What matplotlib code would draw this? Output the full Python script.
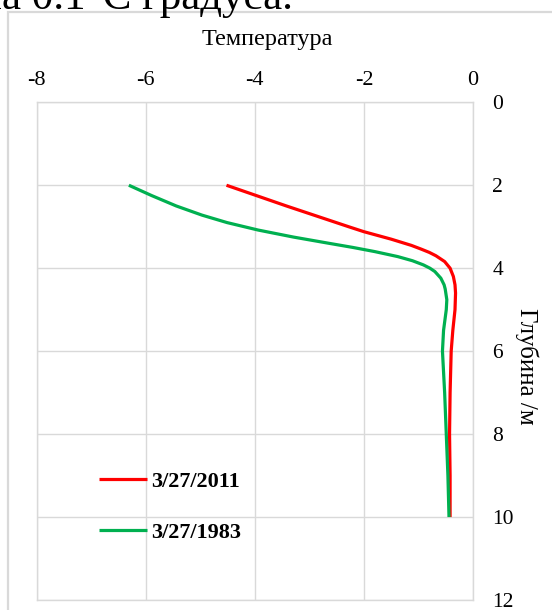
import matplotlib
matplotlib.use("Agg")
import matplotlib.pyplot as plt
from matplotlib.patches import Rectangle

# ---- data ----
series_labels = ["3/27/2011", "3/27/1983"]
series_colors = ["#ff0000", "#00b050"]

depth_2011 = [2.0, 2.5, 3.0, 3.12, 3.3, 3.45, 3.54, 3.62, 3.7, 3.84, 4.0, 4.2,
              4.4, 4.6, 5.0, 5.5, 6.0, 7.0, 8.0, 9.0, 10.0]
temp_2011 = [-4.52, -3.42, -2.28, -2.0, -1.5, -1.13, -0.95, -0.80, -0.68, -0.52,
             -0.42, -0.36, -0.33, -0.32, -0.33, -0.37, -0.40, -0.42, -0.43,
             -0.42, -0.42]

depth_1983 = [2.0, 2.25, 2.5, 2.72, 2.9, 3.08, 3.25, 3.4, 3.5, 3.6, 3.72, 3.82,
              3.92, 4.0, 4.08, 4.24, 4.4, 4.5, 4.76, 5.0, 5.5, 6.0, 6.5, 7.0,
              8.0, 9.0, 10.0]
temp_1983 = [-6.31, -5.89, -5.44, -4.97, -4.51, -3.94, -3.29, -2.64, -2.20, -1.80,
             -1.38, -1.11, -0.91, -0.79, -0.70, -0.59, -0.53, -0.51, -0.48, -0.49,
             -0.54, -0.56, -0.54, -0.52, -0.49, -0.46, -0.44]

x_ticks = [-8, -6, -4, -2, 0]
y_ticks = [0, 2, 4, 6, 8, 10, 12]

title_text = "Температура"
ylabel_text = "Глубина /м"
top_text = "на 0.1°С градуса."

# ---- figure ----
W, H = 552, 610
fig = plt.figure(figsize=(W / 100, H / 100), dpi=100)
plt.rcParams['font.family'] = ['Liberation Serif', 'DejaVu Serif']

def fx(px):
    return px / W

def fy(py):
    return 1 - py / H

# outer chart frame
fig.patches.append(Rectangle((fx(8), fy(640)), fx(600), fy(12) - fy(640),
                             transform=fig.transFigure, facecolor="none",
                             edgecolor="#d9d9d9", linewidth=1.6))

# clipped text above the chart
fig.text(fx(-21), fy(9), top_text, fontsize=31, va="baseline", ha="left",
         color="black")

left, right, top, bottom = 36.7, 473.0, 102.3, 600.0
ax = fig.add_axes([fx(left), fy(bottom), fx(right - left), fy(top) - fy(bottom)])

ax.plot(temp_2011, depth_2011, color=series_colors[0], lw=2.3,
        label=series_labels[0], solid_joinstyle="round", solid_capstyle="butt")
ax.plot(temp_1983, depth_1983, color=series_colors[1], lw=2.3,
        label=series_labels[1], solid_joinstyle="round", solid_capstyle="butt")

ax.set_xlim(-8, 0)
ax.set_ylim(12, 0)
ax.set_xticks(x_ticks)
ax.set_yticks(y_ticks)
ax.set_xticklabels([str(v) for v in x_ticks])
ax.set_yticklabels([str(v) for v in y_ticks])
ax.xaxis.tick_top()
ax.yaxis.tick_right()
ax.tick_params(axis="x", length=0, pad=9, labelsize=16)
ax.tick_params(axis="y", length=0, pad=14, labelsize=15.5)
for lab in ax.get_yticklabels():
    lab.set_horizontalalignment("left")
ax.grid(True, color="#d9d9d9", linewidth=1.0)
ax.set_axisbelow(True)
for s in ax.spines.values():
    s.set_color("#d9d9d9")
    s.set_linewidth(1.0)

fig.text(fx(267), fy(40), title_text, fontsize=17.5, ha="center", va="center")
fig.text(fx(527), fy(366), ylabel_text, fontsize=18, ha="center", va="center",
         rotation=270)

leg = ax.legend(loc="upper left", bbox_to_anchor=(fx(98.6), fy(471)),
                bbox_transform=fig.transFigure, frameon=False, borderpad=0,
                borderaxespad=0, handlelength=2.2, handletextpad=0.15,
                labelspacing=1.39, prop={"weight": "bold", "size": 16})

fig.savefig("out.png", dpi=100)
